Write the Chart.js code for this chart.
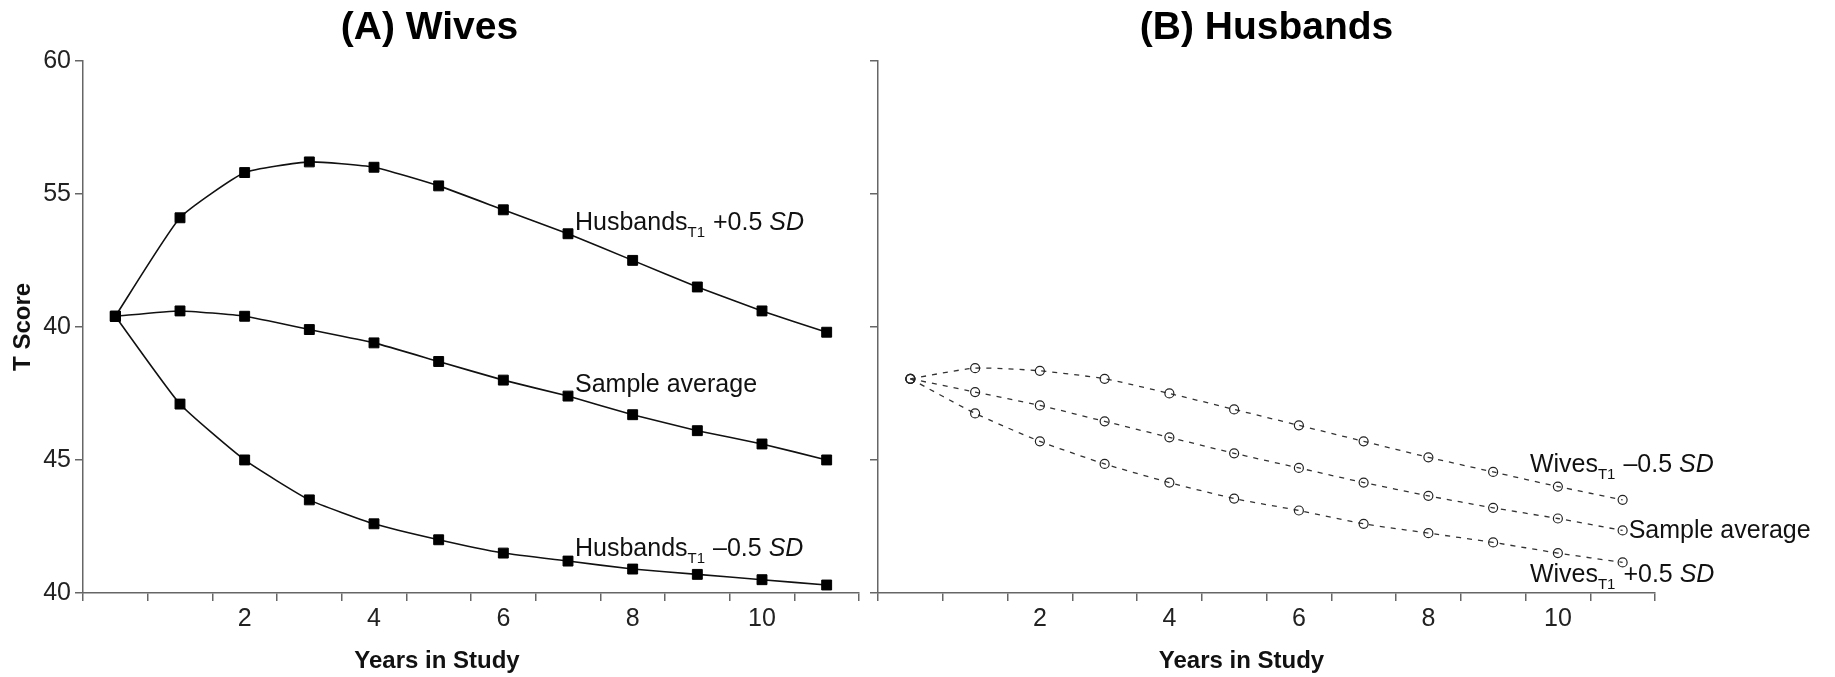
<!DOCTYPE html>
<html><head><meta charset="utf-8">
<script src="https://cdn.jsdelivr.net/npm/chart.js@4.4.0/dist/chart.umd.min.js"></script>
<style>
html,body{margin:0;padding:0;background:#fff;}
#wrap{position:relative;width:1835px;height:677px;overflow:hidden;background:#fff;}
canvas{position:absolute;top:0;}
#c1{left:0;}
#c2{left:860px;}
</style></head><body>
<div id="wrap">
<canvas id="c1" width="878" height="677"></canvas>
<canvas id="c2" width="975" height="677"></canvas>
</div>
<script>
// ---- data ----
const years = ["0","1","2","3","4","5","6","7","8","9","10","11"];
const xTickLabels = ["", "", "2", "", "4", "", "6", "", "8", "", "10", ""];
const yTickValues = [40, 45, 50, 55, 60];
const yTickLabels = ["40", "45", "40", "55", "60"];

// (A) Wives
const wivesHusbandsPlus  = [50.4, 54.1, 55.8, 56.2, 56.0, 55.3, 54.4, 53.5, 52.5, 51.5, 50.6, 49.8];
const wivesSampleAvg     = [50.4, 50.6, 50.4, 49.9, 49.4, 48.7, 48.0, 47.4, 46.7, 46.1, 45.6, 45.0];
const wivesHusbandsMinus = [50.4, 47.1, 45.0, 43.5, 42.6, 42.0, 41.5, 41.2, 40.9, 40.7, 40.5, 40.3];

// (B) Husbands
const husbandsWivesMinus = [48.05, 48.45, 48.35, 48.05, 47.5, 46.9, 46.3, 45.7, 45.1, 44.55, 44.0, 43.5];
const husbandsSampleAvg  = [48.05, 47.55, 47.05, 46.45, 45.85, 45.25, 44.7, 44.15, 43.65, 43.2, 42.8, 42.35];
const husbandsWivesPlus  = [48.05, 46.75, 45.7, 44.85, 44.15, 43.55, 43.1, 42.6, 42.25, 41.9, 41.5, 41.15];

// ---- styling / layout ----
const FONT = "'Liberation Sans', Arial, Helvetica, sans-serif";
const AXIS = '#666';

const labelsA = [
  {ds: 0, at: 7, dx: 7, dy: -4, parts: [{t: 'Husbands'}, {t: 'T1', sub: true}, {t: ' +0.5 '}, {t: 'SD', it: true}]},
  {ds: 1, at: 7, dx: 7, dy: -4, parts: [{t: 'Sample average'}]},
  {ds: 2, at: 7, dx: 7, dy: -5, parts: [{t: 'Husbands'}, {t: 'T1', sub: true}, {t: ' \u20130.5 '}, {t: 'SD', it: true}]}
];
const labelsB = [
  {ds: 0, at: 10, dx: -28, dy: -15, parts: [{t: 'Wives'}, {t: 'T1', sub: true}, {t: ' \u20130.5 '}, {t: 'SD', it: true}]},
  {ds: 1, at: 11, dx: 6, dy: 8, parts: [{t: 'Sample average'}]},
  {ds: 2, at: 10, dx: -28, dy: 29, parts: [{t: 'Wives'}, {t: 'T1', sub: true}, {t: ' +0.5 '}, {t: 'SD', it: true}]}
];

const inlineLabelPlugin = {
  id: 'inlineLabels',
  afterDatasetsDraw(chart, args, opts) {
    const ctx = chart.ctx;
    const xs = chart.scales.x, ys = chart.scales.y;
    ctx.save();
    ctx.fillStyle = '#111';
    ctx.textBaseline = 'alphabetic';
    ctx.textAlign = 'left';
    (opts.items || []).forEach(item => {
      const v = chart.data.datasets[item.ds].data[item.at];
      let x = xs.getPixelForValue(item.at) + item.dx;
      const y = ys.getPixelForValue(v) + item.dy;
      item.parts.forEach(p => {
        const size = p.sub ? 15 : 25;
        ctx.font = (p.it ? 'italic ' : '') + size + 'px ' + FONT;
        ctx.fillText(p.t, x, y + (p.sub ? 7 : 0));
        x += ctx.measureText(p.t).width + (p.sub ? 1 : 0);
      });
    });
    // x-axis title
    if (opts.xTitle) {
      const ca = chart.chartArea;
      ctx.font = 'bold 24px ' + FONT;
      ctx.fillStyle = '#111';
      ctx.textAlign = 'center';
      ctx.textBaseline = 'alphabetic';
      ctx.fillText(opts.xTitle.text, (ca.left + ca.right) / 2 + opts.xTitle.dx, ca.bottom + opts.xTitle.dy);
    }
    ctx.restore();
  }
};

function xScale() {
  return {
    type: 'category',
    offset: true,
    grid: {offset: true, drawOnChartArea: false, drawTicks: true, tickLength: 8, color: AXIS, lineWidth: 1.5},
    border: {color: AXIS, width: 1.5},
    ticks: {autoSkip: false, maxRotation: 0, minRotation: 0, padding: 3, color: '#222',
      font: {family: FONT, size: 25}, callback: (v, i) => xTickLabels[i]},
    title: {display: false},
    afterFit: s => { s.height = 84; }
  };
}
function yScale(showLabels, width) {
  return {
    min: 40, max: 60,
    afterBuildTicks: s => { s.ticks = yTickValues.map(v => ({value: v})); },
    grid: {drawOnChartArea: false, drawTicks: true, tickLength: 8, color: AXIS, lineWidth: 1.5},
    border: {color: AXIS, width: 1.5},
    ticks: {padding: 4, color: '#222', font: {family: FONT, size: 25},
      callback: v => showLabels ? yTickLabels[yTickValues.indexOf(v)] : ''},
    title: {display: showLabels, text: 'T Score', color: '#111',
      font: {family: FONT, size: 24, weight: 'bold'}, padding: {top: 9, bottom: 0}},
    afterFit: s => { s.width = width; }
  };
}
function titleOpts(text, fullSize) {
  return {display: true, text: text, color: '#000', fullSize: fullSize,
    font: {family: FONT, size: 39, weight: 'bold'}, padding: {top: 5, bottom: 9}};
}

new Chart(document.getElementById('c1'), {
  type: 'line',
  data: {
    labels: years,
    datasets: [wivesHusbandsPlus, wivesSampleAvg, wivesHusbandsMinus].map(d => ({
      data: d, borderColor: '#111', borderWidth: 1.6, tension: 0.15,
      pointStyle: 'rect', pointRadius: 7, pointBorderWidth: 1, pointBackgroundColor: '#000', pointBorderColor: '#000'
    }))
  },
  options: {
    responsive: false, animation: false,
    layout: {padding: {left: 0, right: 19, top: 0, bottom: 0}},
    plugins: {legend: {display: false}, tooltip: {enabled: false},
      title: titleOpts('(A) Wives', true),
      inlineLabels: {items: labelsA, xTitle: {text: 'Years in Study', dx: -34, dy: 75}}},
    scales: {x: xScale(), y: yScale(true, 83)}
  },
  plugins: [inlineLabelPlugin]
});

new Chart(document.getElementById('c2'), {
  type: 'line',
  data: {
    labels: years,
    datasets: [husbandsWivesMinus, husbandsSampleAvg, husbandsWivesPlus].map(d => ({
      data: d, borderColor: '#333', borderWidth: 1.3, borderDash: [5, 6], tension: 0.2,
      pointStyle: 'circle', pointRadius: 4.5, pointBorderWidth: 1.2,
      pointBackgroundColor: 'rgba(255,255,255,0)', pointBorderColor: '#222'
    }))
  },
  options: {
    responsive: false, animation: false,
    layout: {padding: {left: 0, right: 180, top: 0, bottom: 0}},
    plugins: {legend: {display: false}, tooltip: {enabled: false},
      title: titleOpts('(B) Husbands', false),
      inlineLabels: {items: labelsB, xTitle: {text: 'Years in Study', dx: -25, dy: 75}}},
    scales: {x: xScale(), y: yScale(false, 18)}
  },
  plugins: [inlineLabelPlugin]
});
</script>
</body></html>
